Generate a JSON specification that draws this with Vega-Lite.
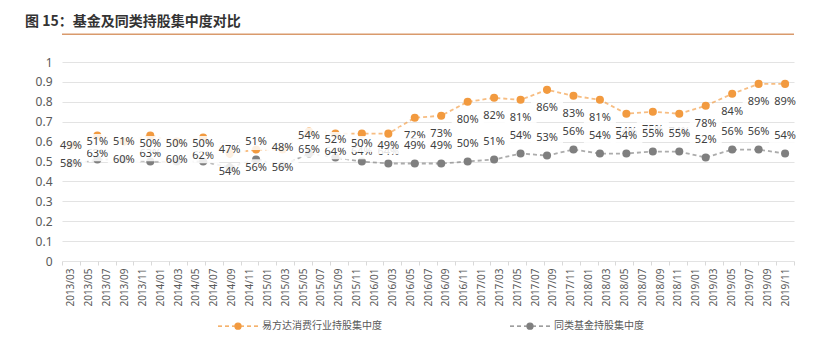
{
  "$schema": "https://vega.github.io/schema/vega-lite/v6.json",
  "autosize": {"type": "none"},
  "width": 732,
  "height": 199,
  "padding": {"left": 62, "top": 62, "right": 41, "bottom": 90},
  "background": "white",
  "title": {
    "text": "图 15：基金及同类持股集中度对比",
    "anchor": "start",
    "frame": "group",
    "dx": -37,
    "offset": 7,
    "dy": 14,
    "baseline": "alphabetic",
    "font": "Noto Sans CJK SC",
    "fontSize": 14,
    "fontWeight": "bold",
    "color": "#333333"
  },
  "datasets": {
    "months": [
      {"month": "2013/03"}, {"month": "2013/05"}, {"month": "2013/07"}, {"month": "2013/09"}, {"month": "2013/11"},
      {"month": "2014/01"}, {"month": "2014/03"}, {"month": "2014/05"}, {"month": "2014/07"}, {"month": "2014/09"}, {"month": "2014/11"},
      {"month": "2015/01"}, {"month": "2015/03"}, {"month": "2015/05"}, {"month": "2015/07"}, {"month": "2015/09"}, {"month": "2015/11"},
      {"month": "2016/01"}, {"month": "2016/03"}, {"month": "2016/05"}, {"month": "2016/07"}, {"month": "2016/09"}, {"month": "2016/11"},
      {"month": "2017/01"}, {"month": "2017/03"}, {"month": "2017/05"}, {"month": "2017/07"}, {"month": "2017/09"}, {"month": "2017/11"},
      {"month": "2018/01"}, {"month": "2018/03"}, {"month": "2018/05"}, {"month": "2018/07"}, {"month": "2018/09"}, {"month": "2018/11"},
      {"month": "2019/01"}, {"month": "2019/03"}, {"month": "2019/05"}, {"month": "2019/07"}, {"month": "2019/09"}, {"month": "2019/11"}
    ],
    "series": [
      {"quarter": "2013Q1", "series": "易方达消费行业持股集中度", "value": 0.58},
      {"quarter": "2013Q2", "series": "易方达消费行业持股集中度", "value": 0.63},
      {"quarter": "2013Q3", "series": "易方达消费行业持股集中度", "value": 0.60},
      {"quarter": "2013Q4", "series": "易方达消费行业持股集中度", "value": 0.63},
      {"quarter": "2014Q1", "series": "易方达消费行业持股集中度", "value": 0.60},
      {"quarter": "2014Q2", "series": "易方达消费行业持股集中度", "value": 0.62},
      {"quarter": "2014Q3", "series": "易方达消费行业持股集中度", "value": 0.54},
      {"quarter": "2014Q4", "series": "易方达消费行业持股集中度", "value": 0.56},
      {"quarter": "2015Q1", "series": "易方达消费行业持股集中度", "value": 0.56},
      {"quarter": "2015Q2", "series": "易方达消费行业持股集中度", "value": 0.65},
      {"quarter": "2015Q3", "series": "易方达消费行业持股集中度", "value": 0.64},
      {"quarter": "2015Q4", "series": "易方达消费行业持股集中度", "value": 0.64},
      {"quarter": "2016Q1", "series": "易方达消费行业持股集中度", "value": 0.64},
      {"quarter": "2016Q2", "series": "易方达消费行业持股集中度", "value": 0.72},
      {"quarter": "2016Q3", "series": "易方达消费行业持股集中度", "value": 0.73},
      {"quarter": "2016Q4", "series": "易方达消费行业持股集中度", "value": 0.80},
      {"quarter": "2017Q1", "series": "易方达消费行业持股集中度", "value": 0.82},
      {"quarter": "2017Q2", "series": "易方达消费行业持股集中度", "value": 0.81},
      {"quarter": "2017Q3", "series": "易方达消费行业持股集中度", "value": 0.86},
      {"quarter": "2017Q4", "series": "易方达消费行业持股集中度", "value": 0.83},
      {"quarter": "2018Q1", "series": "易方达消费行业持股集中度", "value": 0.81},
      {"quarter": "2018Q2", "series": "易方达消费行业持股集中度", "value": 0.74},
      {"quarter": "2018Q3", "series": "易方达消费行业持股集中度", "value": 0.75},
      {"quarter": "2018Q4", "series": "易方达消费行业持股集中度", "value": 0.74},
      {"quarter": "2019Q1", "series": "易方达消费行业持股集中度", "value": 0.78},
      {"quarter": "2019Q2", "series": "易方达消费行业持股集中度", "value": 0.84},
      {"quarter": "2019Q3", "series": "易方达消费行业持股集中度", "value": 0.89},
      {"quarter": "2019Q4", "series": "易方达消费行业持股集中度", "value": 0.89},
      {"quarter": "2013Q1", "series": "同类基金持股集中度", "value": 0.49},
      {"quarter": "2013Q2", "series": "同类基金持股集中度", "value": 0.51},
      {"quarter": "2013Q3", "series": "同类基金持股集中度", "value": 0.51},
      {"quarter": "2013Q4", "series": "同类基金持股集中度", "value": 0.50},
      {"quarter": "2014Q1", "series": "同类基金持股集中度", "value": 0.50},
      {"quarter": "2014Q2", "series": "同类基金持股集中度", "value": 0.50},
      {"quarter": "2014Q3", "series": "同类基金持股集中度", "value": 0.47},
      {"quarter": "2014Q4", "series": "同类基金持股集中度", "value": 0.51},
      {"quarter": "2015Q1", "series": "同类基金持股集中度", "value": 0.48},
      {"quarter": "2015Q2", "series": "同类基金持股集中度", "value": 0.54},
      {"quarter": "2015Q3", "series": "同类基金持股集中度", "value": 0.52},
      {"quarter": "2015Q4", "series": "同类基金持股集中度", "value": 0.50},
      {"quarter": "2016Q1", "series": "同类基金持股集中度", "value": 0.49},
      {"quarter": "2016Q2", "series": "同类基金持股集中度", "value": 0.49},
      {"quarter": "2016Q3", "series": "同类基金持股集中度", "value": 0.49},
      {"quarter": "2016Q4", "series": "同类基金持股集中度", "value": 0.50},
      {"quarter": "2017Q1", "series": "同类基金持股集中度", "value": 0.51},
      {"quarter": "2017Q2", "series": "同类基金持股集中度", "value": 0.54},
      {"quarter": "2017Q3", "series": "同类基金持股集中度", "value": 0.53},
      {"quarter": "2017Q4", "series": "同类基金持股集中度", "value": 0.56},
      {"quarter": "2018Q1", "series": "同类基金持股集中度", "value": 0.54},
      {"quarter": "2018Q2", "series": "同类基金持股集中度", "value": 0.54},
      {"quarter": "2018Q3", "series": "同类基金持股集中度", "value": 0.55},
      {"quarter": "2018Q4", "series": "同类基金持股集中度", "value": 0.55},
      {"quarter": "2019Q1", "series": "同类基金持股集中度", "value": 0.52},
      {"quarter": "2019Q2", "series": "同类基金持股集中度", "value": 0.56},
      {"quarter": "2019Q3", "series": "同类基金持股集中度", "value": 0.56},
      {"quarter": "2019Q4", "series": "同类基金持股集中度", "value": 0.54}
    ]
  },
  "layer": [
    {
      "data": {"name": "months"},
      "mark": {"type": "rule", "opacity": 0},
      "encoding": {
        "x": {
          "field": "month",
          "type": "ordinal",
          "scale": {"type": "band", "paddingInner": 0, "paddingOuter": 0},
          "axis": {
            "title": null,
            "labelAngle": -90,
            "labelFontSize": 10,
            "labelColor": "#595959",
            "labelFont": "Noto Sans",
            "labelPadding": 3,
            "domain": false,
            "ticks": true,
            "tickBand": "extent",
            "tickSize": 4,
            "tickColor": "#D9D9D9",
            "grid": false
          }
        }
      }
    },
    {
      "data": {"values": [{"note": "title underline"}]},
      "mark": {"type": "rule", "color": "#D99A6C", "strokeWidth": 1.5, "clip": false},
      "encoding": {
        "y": {"datum": 1.14, "type": "quantitative", "scale": {"domain": [0, 1]}, "axis": null}
      }
    },
    {
      "data": {"name": "series"},
      "encoding": {
        "x": {
          "field": "quarter",
          "type": "ordinal",
          "scale": {"type": "point", "padding": 0.3377},
          "axis": null
        },
        "y": {
          "field": "value",
          "type": "quantitative",
          "scale": {"domain": [0, 1], "nice": false},
          "axis": {
            "title": null,
            "values": [0, 0.1, 0.2, 0.3, 0.4, 0.5, 0.6, 0.7, 0.8, 0.9, 1],
            "format": ".1~f",
            "grid": true,
            "gridColor": "#E3E3E3",
            "domain": false,
            "ticks": false,
            "labelPadding": 10,
            "labelFontSize": 12,
            "labelFont": "Noto Sans",
            "labelColor": "#595959"
          }
        },
        "color": {
          "field": "series",
          "type": "nominal",
          "sort": ["易方达消费行业持股集中度", "同类基金持股集中度"],
          "scale": {
            "domain": ["易方达消费行业持股集中度", "同类基金持股集中度"],
            "range": ["#F29A3F", "#7F7F7F"]
          },
          "legend": {
            "title": null,
            "orient": "none",
            "direction": "horizontal",
            "legendX": 155,
            "legendY": 243,
            "padding": 0,
            "columnPadding": 125,
            "labelOffset": 3,
            "labelFontSize": 10,
            "labelFont": "Noto Sans CJK SC",
            "labelColor": "#595959",
            "symbolType": "M-1,0H-0.8M-0.65,0H-0.45M-0.3,0H-0.15M0.15,0H0.3M0.45,0H0.65M0.8,0H1M0.15,0A0.15,0.15,0,1,1,-0.15,0A0.15,0.15,0,1,1,0.15,0Z",
            "symbolSize": 1600,
            "symbolStrokeWidth": 1.3,
            "symbolDash": [100, 0],
            "symbolOpacity": 1,
            "encode": {
              "symbols": {
                "update": {
                  "fill": {"scale": "color", "field": "value"},
                  "stroke": {"scale": "color", "field": "value"}
                }
              }
            }
          }
        }
      },
      "layer": [
        {
          "mark": {"type": "line", "strokeDash": [4, 3], "strokeWidth": 1.8, "opacity": 0.65}
        },
        {
          "mark": {"type": "circle", "size": 65, "opacity": 1}
        },
        {
          "transform": [{"filter": "datum.series === '易方达消费行业持股集中度'"}],
          "mark": {"type": "point", "shape": "M-1,0.6H1V1.6H-1Z", "size": 1024, "filled": true, "opacity": 0.85, "strokeWidth": 0},
          "encoding": {"color": {"value": "#FFFFFF"}}
        },
        {
          "transform": [{"filter": "datum.series === '易方达消费行业持股集中度'"}],
          "mark": {"type": "text", "dy": 18, "fontSize": 11, "font": "Noto Sans", "baseline": "middle", "align": "center"},
          "encoding": {
            "text": {"field": "value", "type": "quantitative", "format": ".0%"},
            "color": {"value": "#404040"}
          }
        },
        {
          "transform": [{"filter": "datum.series === '同类基金持股集中度'"}],
          "mark": {"type": "point", "shape": "M-1,-1.6H1V-0.6H-1Z", "size": 1024, "filled": true, "opacity": 0.85, "strokeWidth": 0},
          "encoding": {"color": {"value": "#FFFFFF"}}
        },
        {
          "transform": [{"filter": "datum.series === '同类基金持股集中度'"}],
          "mark": {"type": "text", "dy": -17.5, "fontSize": 11, "font": "Noto Sans", "baseline": "middle", "align": "center"},
          "encoding": {
            "text": {"field": "value", "type": "quantitative", "format": ".0%"},
            "color": {"value": "#404040"}
          }
        }
      ]
    }
  ],
  "resolve": {"scale": {"x": "independent", "y": "independent"}},
  "config": {
    "view": {"stroke": null},
    "font": "Noto Sans CJK SC"
  }
}
